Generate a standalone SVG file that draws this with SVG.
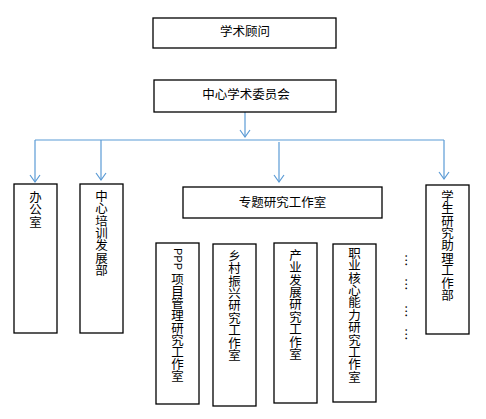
<svg xmlns="http://www.w3.org/2000/svg" width="486" height="419" viewBox="0 0 486 419">
<style>
.box{fill:#fff;stroke:#000;stroke-width:1.3}
.t{font-family:"Noto Sans CJK SC","Liberation Sans",sans-serif;font-size:12.5px;fill:#000;text-anchor:middle}
.p{font-family:"Liberation Sans",sans-serif;font-size:11px;fill:#000}
.v{writing-mode:tb;text-anchor:start}
.c{fill:none;stroke:#5B9BD5;stroke-width:1.2}
</style>
<defs>
<marker id="a" markerWidth="12" markerHeight="12" refX="10" refY="6" orient="auto" markerUnits="userSpaceOnUse" viewBox="0 0 12 12">
<path d="M3,1 L10,6 L3,11" fill="none" stroke="#5B9BD5" stroke-width="1.2"/>
</marker>
</defs>
<rect width="486" height="419" fill="#fff"/>
<g id="connectors">
<line class="c" x1="245" y1="112" x2="245" y2="137" marker-end="url(#a)"/>
<line class="c" x1="35" y1="140" x2="444" y2="140"/>
<line class="c" x1="35" y1="140" x2="35" y2="182" marker-end="url(#a)"/>
<line class="c" x1="101" y1="140" x2="101" y2="180" marker-end="url(#a)"/>
<line class="c" x1="279" y1="142" x2="279" y2="182" marker-end="url(#a)"/>
<line class="c" x1="444" y1="140" x2="444" y2="179" marker-end="url(#a)"/>
</g>
<g id="n1"><rect class="box" x="153" y="18" width="183" height="30"/><text class="t" x="245" y="36">学术顾问</text></g>
<g id="n2"><rect class="box" x="154" y="80" width="182" height="32"/><text class="t" x="246" y="99">中心学术委员会</text></g>
<g id="n3"><rect class="box" x="14" y="184" width="43" height="149"/>
<text class="t" x="35.5 35.5 35.5" y="201.8 214.2 226.6">办公室</text></g>
<g id="n4"><rect class="box" x="80" y="184" width="43" height="149"/>
<text class="t" x="101.5 101.5 101.5 101.5 101.5 101.5 101.5" y="200.8 213.2 225.6 238 250.4 262.8 275.2">中心培训发展部</text></g>
<g id="n5"><rect class="box" x="183" y="187" width="199" height="31"/><text class="t" x="282.5" y="207">专题研究工作室</text></g>
<g id="n6"><rect class="box" x="156" y="243" width="43" height="161"/>
<text class="p" transform="translate(177.5,248) rotate(90)" x="0" y="4">PPP</text>
<text class="t" x="177.5 177.5 177.5 177.5 177.5 177.5 177.5 177.5 177.5" y="283.8 296 308.2 320.4 332.6 344.8 357 369.2 381.4">项目管理研究工作室</text></g>
<g id="n7"><rect class="box" x="213" y="244" width="43" height="162"/>
<text class="t" x="234.5 234.5 234.5 234.5 234.5 234.5 234.5 234.5 234.5" y="260.8 273.2 285.6 298 310.4 322.8 335.2 347.6 360">乡村振兴研究工作室</text></g>
<g id="n8"><rect class="box" x="274" y="243" width="43" height="160"/>
<text class="t" x="295.5 295.5 295.5 295.5 295.5 295.5 295.5 295.5 295.5" y="259.8 272.2 284.6 297 309.4 321.8 334.2 346.6 359">产业发展研究工作室</text></g>
<g id="n9"><rect class="box" x="333" y="244" width="43" height="158"/>
<text class="t" x="354.5 354.5 354.5 354.5 354.5 354.5 354.5 354.5 354.5 354.5 354.5" y="257.8 270.2 282.6 295 307.4 319.8 332.2 344.6 357 369.4 381.8">职业核心能力研究工作室</text></g>
<g id="n10"><rect class="box" x="426" y="185" width="43" height="149"/>
<text class="t" x="447.5 447.5 447.5 447.5 447.5 447.5 447.5 447.5 447.5" y="200.8 213.2 225.6 238 250.4 262.8 275.2 287.6 300">学生研究助理工作部</text></g>
<g id="dots">
<text class="t v" x="406" y="254">…</text>
<text class="t v" x="406" y="278">…</text>
<text class="t v" x="406" y="305">…</text>
<text class="t v" x="406" y="328">…</text>
</g>
</svg>
